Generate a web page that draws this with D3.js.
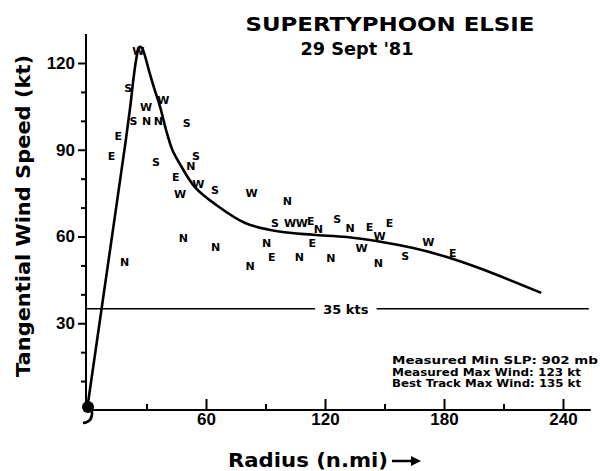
<!DOCTYPE html>
<html>
<head>
<meta charset="utf-8">
<script src="https://cdn.jsdelivr.net/npm/d3@7"></script>
<style>
  body { margin: 0; background: #fff; }
  svg { display: block; font-family: "DejaVu Sans", sans-serif; }
</style>
</head>
<body>
<div id="chart"></div>
<script>
// flight-level obs, letter = quadrant of the leg
var obsDir    = ['W','S','W','W','S','N','N','S','E','E','S','S','N','E','W','S','W','W','N','S','W','W','E','N','S','N','E','W','E','W','E','N','N','N','E','E','N','N','N','W','N','S','N'];
var obsRadius = [25.9,20.8,29.8,38.5,23.4,30.1,36,50.3,15.8,12.4,34.8,55,52.4,44.7,56.1,64.5,46.9,83,101,94.8,102.4,108.3,112.8,116.7,126.2,132.6,142.4,147.5,152.5,172.1,184.4,48.6,64.9,90.6,93.1,113.6,82.2,107.1,122.9,138.5,146.9,160.4,19];
var obsSpeed  = [124,111.3,104.7,107.3,100.1,100.1,100.1,99.2,94.8,87.7,85.6,87.9,84.2,80.7,78.2,76.1,74.7,75.2,72.1,64.8,64.8,64.6,65.2,62.5,66,62.9,63.2,60.2,64.6,58.2,54.2,59.4,56.5,57.7,53,57.9,49.8,53,52.5,55.9,50.8,53.3,51.3];

// fitted profile
var profRadius = [0,10.5,19.5,22,23.5,25,26.3,27.6,29,31,34,36.8,39.8,43,46.9,54.5,65,80,97,114,131,148,164.5,181,198,229];
var profSpeed  = [0,50,93,106,115,122,125.5,125.3,123,118,111,105,97,90,85,77,71,64.6,61.7,60.6,59.8,58.2,56,53,49,40.5];

var xMajor = [60,120,180,240];
var xMinor = [30,90,150,210];
var yMajor = [30,60,90,120];
var yMinor = [10,20,40,50,70,80,100,110];

var galeSpeed = 35;
var notes = ['Measured  Min SLP: 902 mb', 'Measured  Max Wind: 123 kt', 'Best Track Max Wind: 135 kt'];

var width = 600, height = 471;

var svg = d3.select('#chart').append('svg')
  .attr('width', width)
  .attr('height', height);

var x = d3.scaleLinear().domain([0, 240]).range([87, 563]);
var y = d3.scaleLinear().domain([0, 120]).range([410, 63]);

// axes lines
svg.append('line')
  .attr('x1', 86).attr('x2', 86)
  .attr('y1', y(130)).attr('y2', y(0))
  .attr('stroke', '#000').attr('stroke-width', 2);
svg.append('line')
  .attr('x1', 86).attr('x2', x(254))
  .attr('y1', y(0)).attr('y2', y(0))
  .attr('stroke', '#000').attr('stroke-width', 2.2);

var xAxis = svg.append('g')
  .attr('transform', 'translate(0,' + y(0) + ')')
  .call(d3.axisBottom(x).tickValues(xMajor).tickSize(-11).tickPadding(3));
var xAxisMinor = svg.append('g')
  .attr('transform', 'translate(0,' + y(0) + ')')
  .call(d3.axisBottom(x).tickValues(xMinor).tickSize(-6).tickFormat(''));

var yAxis = svg.append('g')
  .attr('transform', 'translate(86,0)')
  .call(d3.axisLeft(y).tickValues(yMajor).tickSize(8).tickPadding(3));
var yAxisMinor = svg.append('g')
  .attr('transform', 'translate(86,0)')
  .call(d3.axisLeft(y).tickValues(yMinor).tickSize(5).tickFormat(''));

svg.selectAll('.domain').remove();
svg.selectAll('.tick line').attr('stroke', '#000').attr('stroke-width', 2);
svg.selectAll('.tick text')
  .attr('fill', '#000')
  .style('font-size', '17px')
  .style('font-weight', 'bold');

// 35 kt line with label gap
svg.append('line')
  .attr('x1', 86).attr('x2', x(115))
  .attr('y1', y(galeSpeed)).attr('y2', y(galeSpeed))
  .attr('stroke', '#000').attr('stroke-width', 1.6);
svg.append('line')
  .attr('x1', x(146)).attr('x2', x(253))
  .attr('y1', y(galeSpeed)).attr('y2', y(galeSpeed))
  .attr('stroke', '#000').attr('stroke-width', 1.6);
svg.append('text')
  .attr('x', x(130.5)).attr('y', y(galeSpeed) + 5)
  .attr('text-anchor', 'middle')
  .style('font-size', '13px').style('font-weight', 'bold')
  .text(galeSpeed + ' kts');

// profile curve
var profile = profRadius.map(function(r, i) { return [r, profSpeed[i]]; });
var line = d3.line()
  .x(function(d) { return x(d[0]); })
  .y(function(d) { return y(d[1]); })
  .curve(d3.curveCatmullRom.alpha(0.5));
svg.append('path')
  .datum(profile)
  .attr('d', line)
  .attr('fill', 'none')
  .attr('stroke', '#000')
  .attr('stroke-width', 2.6);

// typhoon symbol at the centre
svg.append('circle')
  .attr('cx', x(0) + 1).attr('cy', y(0) - 3)
  .attr('r', 6).attr('fill', '#000');
svg.append('path')
  .attr('d', 'M' + (x(0) + 5) + ',' + (y(0) + 1) + ' Q' + (x(0) + 6) + ',' + (y(0) + 12) + ' ' + (x(0) - 4) + ',' + (y(0) + 13))
  .attr('fill', 'none').attr('stroke', '#000').attr('stroke-width', 2.5);

// observation letters
svg.selectAll('.obs')
  .data(obsDir)
  .enter()
  .append('text')
  .attr('class', 'obs')
  .attr('x', function(d, i) { return x(obsRadius[i]); })
  .attr('y', function(d, i) { return y(obsSpeed[i]); })
  .attr('dy', '0.36em')
  .attr('text-anchor', 'middle')
  .style('font-size', '11px')
  .style('font-weight', 'bold')
  .text(function(d) { return d; });

// titles
svg.append('text')
  .attr('x', 390).attr('y', 31)
  .attr('text-anchor', 'middle')
  .attr('textLength', 289).attr('lengthAdjust', 'spacingAndGlyphs')
  .style('font-size', '20px').style('font-weight', 'bold')
  .text('SUPERTYPHOON  ELSIE');
svg.append('text')
  .attr('x', 357).attr('y', 55)
  .attr('text-anchor', 'middle')
  .attr('textLength', 113).attr('lengthAdjust', 'spacingAndGlyphs')
  .style('font-size', '17px').style('font-weight', 'bold')
  .text("29 Sept '81");

svg.append('text')
  .attr('transform', 'translate(30,216) rotate(-90)')
  .attr('text-anchor', 'middle')
  .attr('textLength', 322).attr('lengthAdjust', 'spacingAndGlyphs')
  .style('font-size', '19px').style('font-weight', 'bold')
  .text('Tangential Wind Speed (kt)');

svg.append('text')
  .attr('x', 228).attr('y', 467)
  .attr('textLength', 160).attr('lengthAdjust', 'spacingAndGlyphs')
  .style('font-size', '20px').style('font-weight', 'bold')
  .text('Radius (n.mi)');
svg.append('line')
  .attr('x1', 392).attr('x2', 414)
  .attr('y1', 461).attr('y2', 461)
  .attr('stroke', '#000').attr('stroke-width', 2.5);
svg.append('path')
  .attr('d', 'M421,461 L411,456 L411,466 Z')
  .attr('fill', '#000');

// stats box
svg.selectAll('.note')
  .data(notes)
  .enter()
  .append('text')
  .attr('class', 'note')
  .attr('x', 392)
  .attr('y', function(d, i) { return 364 + i * 11.5; })
  .attr('textLength', function(d, i) { return i === 0 ? 206 : 189; })
  .attr('lengthAdjust', 'spacingAndGlyphs')
  .style('font-size', '10.5px').style('font-weight', 'bold')
  .text(function(d) { return d; });
</script>
</body>
</html>
